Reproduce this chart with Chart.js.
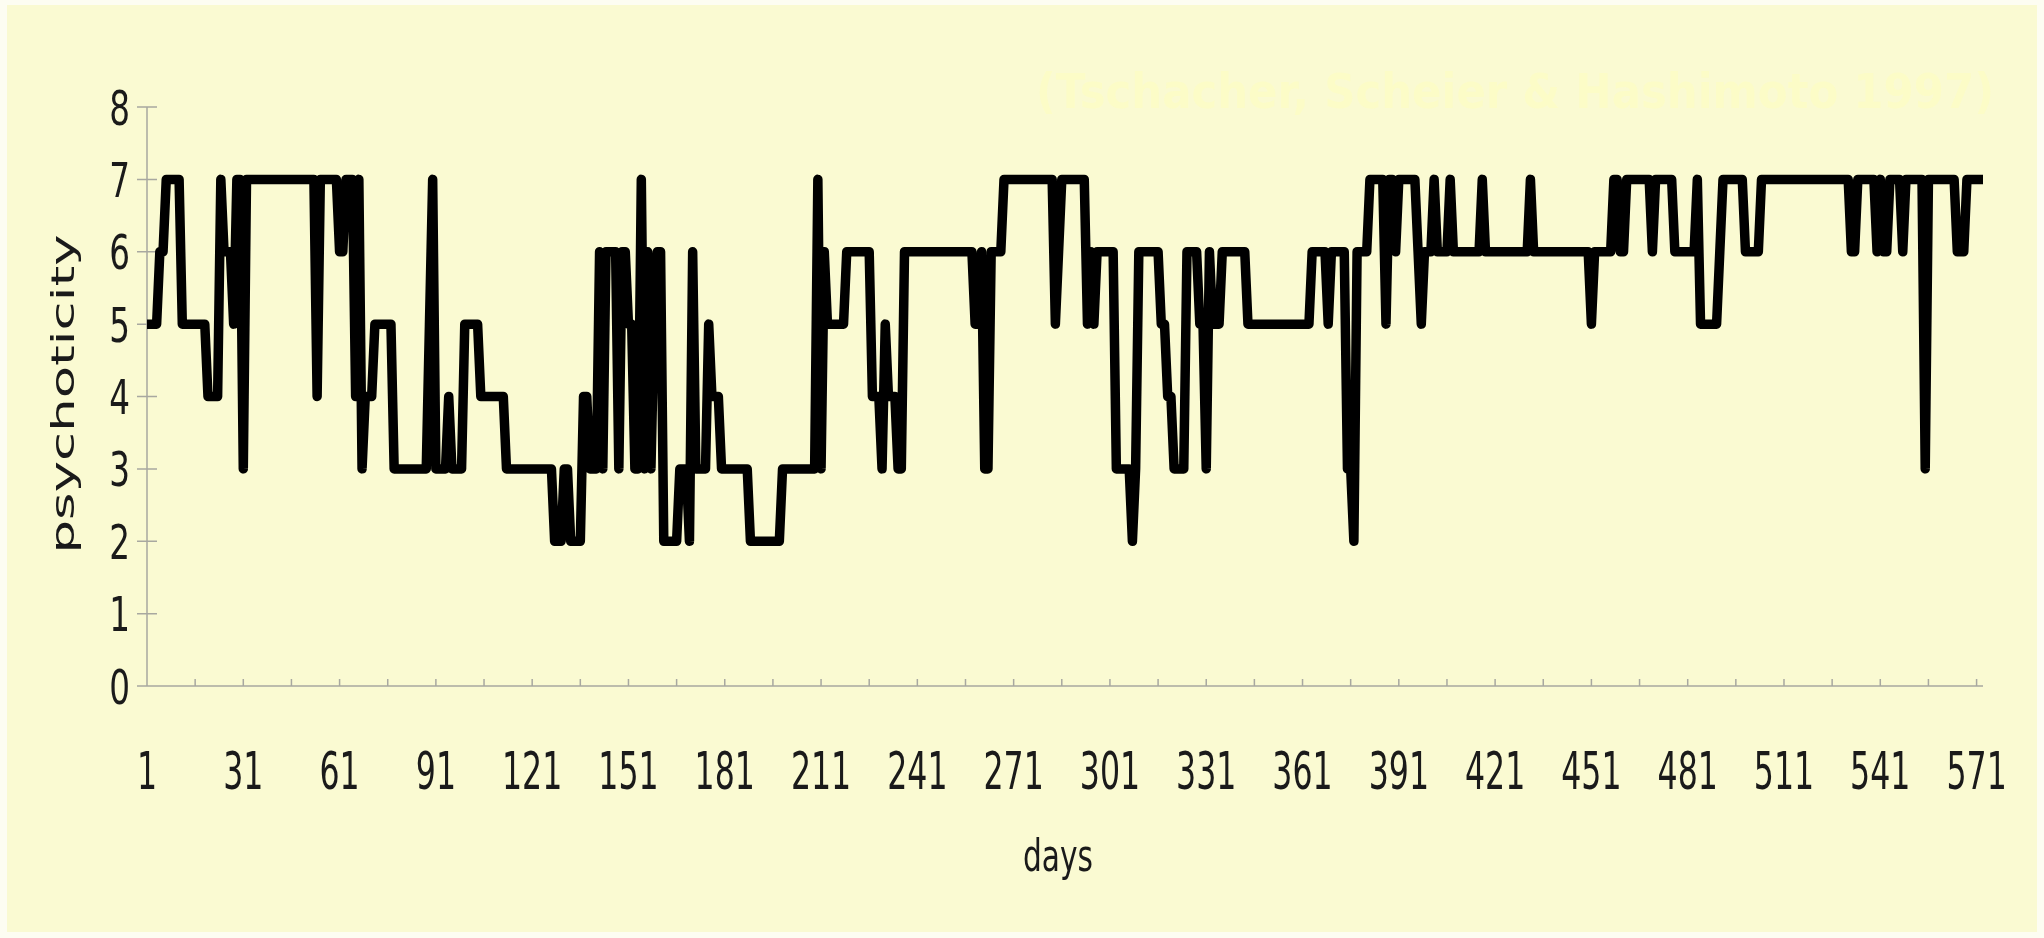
<!DOCTYPE html>
<html>
<head>
<meta charset="utf-8">
<title>psychoticity over days</title>
<script src="https://cdn.jsdelivr.net/npm/chart.js@4.4.1/dist/chart.umd.min.js"></script>
<style>
  html, body { margin: 0; padding: 0; background: #FDFDF2; }
  #wrap { width: 2044px; height: 938px; position: relative; }
  canvas { display: block; }
</style>
</head>
<body>
<div id="wrap"><canvas id="chart" width="2044" height="938"></canvas></div>
<script>
// Daily psychoticity ratings, day 1 .. day 573 (ten days per row)
const psychoticity = [
  5,5,5,5,6,6,7,7,7,7,
  7,5,5,5,5,5,5,5,5,4,
  4,4,4,7,6,6,6,5,7,7,
  3,7,7,7,7,7,7,7,7,7,
  7,7,7,7,7,7,7,7,7,7,
  7,7,7,4,7,7,7,7,7,7,
  6,6,7,7,7,4,7,3,4,4,
  4,5,5,5,5,5,5,3,3,3,
  3,3,3,3,3,3,3,3,5,7,
  3,3,3,3,4,3,3,3,3,5,
  5,5,5,5,4,4,4,4,4,4,
  4,4,3,3,3,3,3,3,3,3,
  3,3,3,3,3,3,3,2,2,2,
  3,3,2,2,2,2,4,4,3,3,
  3,6,3,6,6,6,6,3,6,6,
  5,5,3,3,7,3,6,3,5,6,
  6,2,2,2,2,2,3,3,3,2,
  6,3,3,3,3,5,4,4,4,3,
  3,3,3,3,3,3,3,3,2,2,
  2,2,2,2,2,2,2,2,3,3,
  3,3,3,3,3,3,3,3,3,7,
  3,6,5,5,5,5,5,5,6,6,
  6,6,6,6,6,6,4,4,4,3,
  5,4,4,4,3,3,6,6,6,6,
  6,6,6,6,6,6,6,6,6,6,
  6,6,6,6,6,6,6,6,5,5,
  6,3,3,6,6,6,6,7,7,7,
  7,7,7,7,7,7,7,7,7,7,
  7,7,7,5,6,7,7,7,7,7,
  7,7,7,5,6,5,6,6,6,6,
  6,6,3,3,3,3,3,2,3,6,
  6,6,6,6,6,6,5,5,4,4,
  3,3,3,3,6,6,6,6,5,5,
  3,6,5,5,5,6,6,6,6,6,
  6,6,6,5,5,5,5,5,5,5,
  5,5,5,5,5,5,5,5,5,5,
  5,5,5,6,6,6,6,6,5,6,
  6,6,6,6,3,3,2,6,6,6,
  6,7,7,7,7,7,5,7,7,6,
  7,7,7,7,7,7,6,5,6,6,
  6,7,6,6,6,6,7,6,6,6,
  6,6,6,6,6,6,7,6,6,6,
  6,6,6,6,6,6,6,6,6,6,
  6,7,6,6,6,6,6,6,6,6,
  6,6,6,6,6,6,6,6,6,6,
  5,6,6,6,6,6,6,7,7,6,
  6,7,7,7,7,7,7,7,7,6,
  7,7,7,7,7,7,6,6,6,6,
  6,6,6,7,5,5,5,5,5,5,
  6,7,7,7,7,7,7,7,6,6,
  6,6,6,7,7,7,7,7,7,7,
  7,7,7,7,7,7,7,7,7,7,
  7,7,7,7,7,7,7,7,7,7,
  7,6,6,7,7,7,7,7,7,6,
  7,6,6,7,7,7,7,6,7,7,
  7,7,7,7,3,7,7,7,7,7,
  7,7,7,7,6,6,6,7,7,7,
  7,7,7
];

// Day numbers used as the x categories
const days = psychoticity.map((_, i) => i + 1);

// Labelled days on the x axis
const dayLabels = [1, 31, 61, 91, 121, 151, 181, 211, 241, 271, 301, 331, 361, 391, 421, 451, 481, 511, 541, 571];

// Rating scale ticks on the y axis
const ratingTicks = [0, 1, 2, 3, 4, 5, 6, 7, 8];

const yTitle = 'psychoticity';
const xTitle = 'days';
const sourceNote = '(Tschacher, Scheier & Hashimoto 1997)';

const SANS = "'DejaVu Sans', 'Liberation Sans', sans-serif";
const BG = '#FAFAD2';
const FRAME = '#FDFDF2';
const AXIS = '#A8A8A0';
const INK = '#1A1A1A';

// Pale frame with the yellow panel inside it
const backgroundPlugin = {
  id: 'background',
  beforeDraw(chart) {
    const c = chart.ctx;
    c.save();
    c.fillStyle = FRAME;
    c.fillRect(0, 0, chart.width, chart.height);
    c.fillStyle = BG;
    c.fillRect(7, 5, chart.width - 14, chart.height - 11);
    c.restore();
  }
};

// Axis lines with crossing tick marks (y) and inner tick marks (x, every 15 days)
const axesPlugin = {
  id: 'axesLines',
  beforeDatasetsDraw(chart) {
    const c = chart.ctx;
    const { left, right, top, bottom } = chart.chartArea;
    const xs = chart.scales.x, ys = chart.scales.y;
    c.save();
    c.strokeStyle = AXIS;
    c.lineWidth = 1.5;
    c.beginPath();
    c.moveTo(left, top);
    c.lineTo(left, bottom);
    c.lineTo(right, bottom);
    ratingTicks.forEach(v => {
      const y = ys.getPixelForValue(v);
      c.moveTo(left - 10, y);
      c.lineTo(left + 10, y);
    });
    dayLabels.forEach(d => {
      [d, d + 15].forEach(t => {
        if (t > days[days.length - 1]) return;
        const x = xs.getPixelForValue(t);
        c.moveTo(x, bottom);
        c.lineTo(x, bottom - 7);
      });
    });
    c.stroke();
    c.restore();
  }
};

// Draws text at (x, y) squeezed horizontally by sx
function squeezedText(c, text, x, y, sx, align) {
  c.save();
  c.translate(x, y);
  c.scale(sx, 1);
  c.textAlign = align;
  c.fillText(text, 0, 0);
  c.restore();
}

// Tick labels placed from the chart's own scales
const tickLabelPlugin = {
  id: 'tickLabels',
  afterDraw(chart) {
    const c = chart.ctx;
    const xs = chart.scales.x, ys = chart.scales.y;
    const { left, bottom } = chart.chartArea;
    c.save();
    c.fillStyle = INK;
    c.textBaseline = 'alphabetic';
    c.font = '51px ' + SANS;
    dayLabels.forEach(d => {
      squeezedText(c, String(d), xs.getPixelForValue(d), bottom + 103, 0.62, 'center');
    });
    c.font = '48px ' + SANS;
    ratingTicks.forEach(v => {
      squeezedText(c, String(v), left - 17, ys.getPixelForValue(v) + 17.5, 0.68, 'right');
    });
    c.restore();
  }
};

// Text fitted to a target length, centred at (cx, cy)
function fittedText(c, text, font, color, cx, cy, targetLen, vertical) {
  c.save();
  c.font = font;
  c.fillStyle = color;
  c.textAlign = 'center';
  c.textBaseline = 'middle';
  const w = c.measureText(text).width;
  c.translate(cx, cy);
  if (vertical) c.rotate(-Math.PI / 2);
  c.scale(targetLen / w, 1);
  c.fillText(text, 0, 0);
  c.restore();
}

const titlesPlugin = {
  id: 'titles',
  afterDraw(chart) {
    const c = chart.ctx;
    fittedText(c, sourceNote, 'bold 48px ' + SANS, '#FCFCC7', 1515, 96, 958, false);
    fittedText(c, yTitle, '32px ' + SANS, INK, 66, 394, 319, true);
    fittedText(c, xTitle, '44px ' + SANS, INK, 1058, 860, 70, false);
  }
};

new Chart(document.getElementById('chart'), {
  type: 'line',
  data: {
    labels: days,
    datasets: [{
      data: psychoticity,
      borderColor: '#000000',
      borderWidth: 9.5,
      borderJoinStyle: 'round',
      borderCapStyle: 'butt',
      pointRadius: 0,
      tension: 0,
      fill: false
    }]
  },
  options: {
    responsive: false,
    animation: false,
    devicePixelRatio: 1,
    events: [],
    layout: { padding: { top: 107, right: 61, left: 0, bottom: 0 } },
    plugins: { legend: { display: false }, tooltip: { enabled: false } },
    scales: {
      x: {
        type: 'linear',
        min: 1,
        max: days[days.length - 1],
        afterBuildTicks(s) { s.ticks = dayLabels.map(v => ({ value: v })); },
        afterFit(s) { s.height = 938 - 686; },
        grid: { display: false, drawTicks: false },
        border: { display: false },
        ticks: { display: false }
      },
      y: {
        min: 0,
        max: 8,
        afterBuildTicks(s) { s.ticks = ratingTicks.map(v => ({ value: v })); },
        afterFit(s) { s.width = 147; },
        grid: { display: false, drawTicks: false },
        border: { display: false },
        ticks: { display: false }
      }
    }
  },
  plugins: [backgroundPlugin, axesPlugin, tickLabelPlugin, titlesPlugin]
});
</script>
</body>
</html>
